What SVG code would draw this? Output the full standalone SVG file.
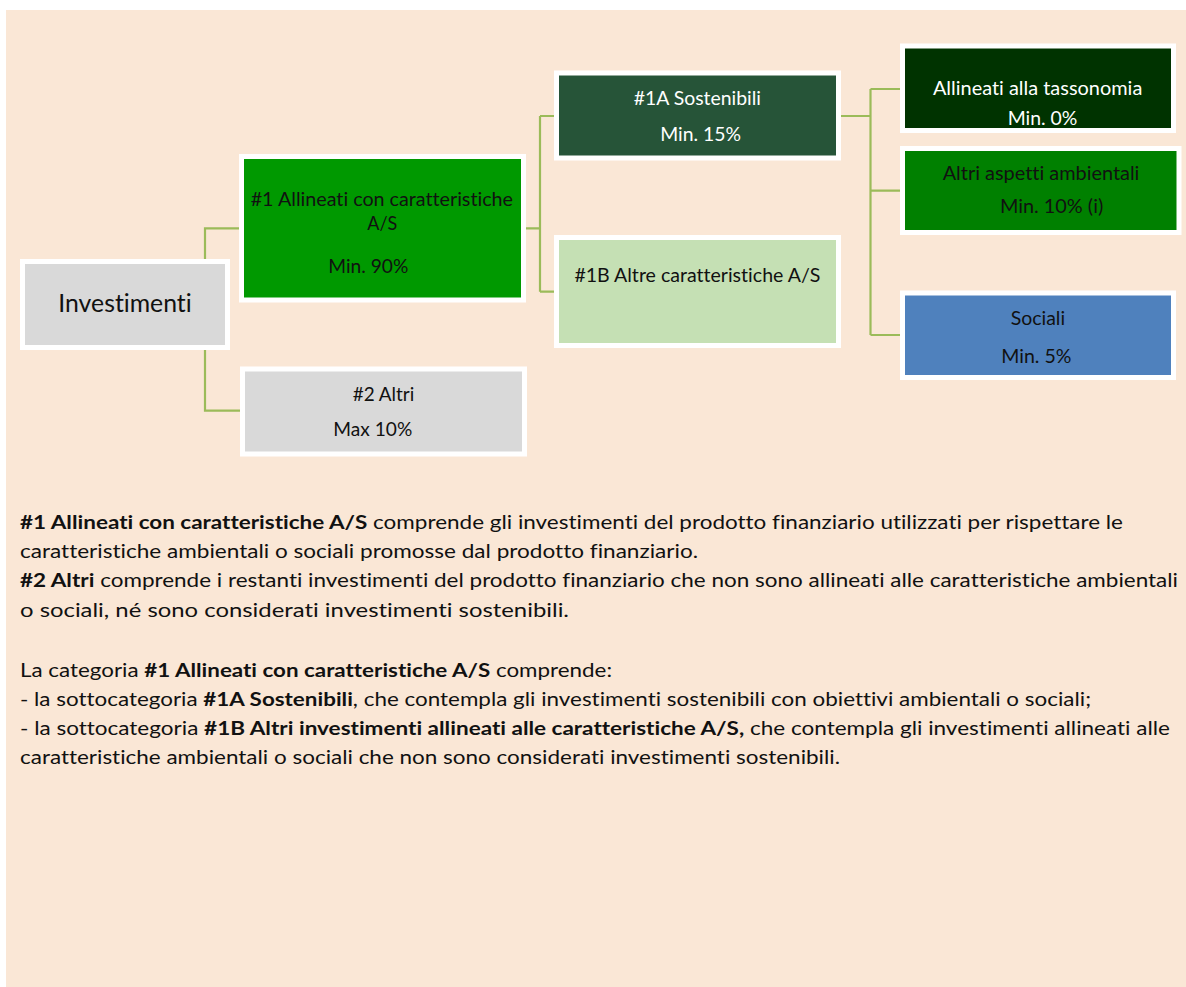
<svg xmlns="http://www.w3.org/2000/svg" width="1186" height="987" viewBox="0 0 1186 987">
<style>
text{font-variant-ligatures:none;font-feature-settings:"liga" 0,"clig" 0}
.node{stroke:#ffffff;stroke-width:5}
.t{font-family:Lato,"Liberation Sans",sans-serif;font-size:19.5px;fill:#111}
.w{fill:#ffffff}
.big{font-size:25px}
.p{font-family:Lato,"Liberation Sans",sans-serif;font-size:19.5px;fill:#111}
.b{font-weight:bold}
.conn{fill:none;stroke:#9bbb59;stroke-width:2.2}
</style>
<rect x="0" y="0" width="1186" height="987" fill="#ffffff"/>
<rect x="6" y="10" width="1180" height="977" fill="#fae7d6"/>

<g id="connectors">
<path class="conn" d="M205,259.3 V228.3 H240"/>
<path class="conn" d="M205,350 V410.7 H241"/>
<path class="conn" d="M525.7,228.3 H540 M540,116 V291.7 M540,116 H555 M540,291.7 H555"/>
<path class="conn" d="M840.7,116 H870.5 M870.5,89 V335 M870.5,89 H901 M870.5,190.7 H901 M870.5,335 H901"/>
</g>

<g id="node-investimenti">
<rect class="node" x="22.5" y="261.5" width="205" height="86" fill="#d9d9d9"/>
<text class="t big" x="58.3" y="311.7" textLength="133.4" lengthAdjust="spacingAndGlyphs">Investimenti</text>
</g>

<g id="node-1">
<rect class="node" x="241.5" y="156.5" width="282" height="143.5" fill="#009900"/>
<text class="t" x="250.7" y="206" textLength="262.3" lengthAdjust="spacingAndGlyphs">#1 Allineati con caratteristiche</text>
<text class="t" x="367.3" y="230" textLength="30" lengthAdjust="spacingAndGlyphs">A/S</text>
<text class="t" x="328.3" y="272.7" textLength="80" lengthAdjust="spacingAndGlyphs">Min. 90%</text>
</g>

<g id="node-2">
<rect class="node" x="242.5" y="369" width="282" height="85" fill="#d9d9d9"/>
<text class="t" x="352.7" y="401" textLength="61.6" lengthAdjust="spacingAndGlyphs">#2 Altri</text>
<text class="t" x="333.3" y="435.7" textLength="79" lengthAdjust="spacingAndGlyphs">Max 10%</text>
</g>

<g id="node-1a">
<rect class="node" x="556.5" y="73" width="282" height="85" fill="#265438"/>
<text class="t w" x="633.8" y="105" textLength="127.2" lengthAdjust="spacingAndGlyphs">#1A Sostenibili</text>
<text class="t w" x="660.2" y="140.7" textLength="80.7" lengthAdjust="spacingAndGlyphs">Min. 15%</text>
</g>

<g id="node-1b">
<rect class="node" x="556.5" y="237.5" width="282" height="108" fill="#c5e0b4"/>
<text class="t" x="574.4" y="282.3" textLength="246" lengthAdjust="spacingAndGlyphs">#1B Altre caratteristiche A/S</text>
</g>

<g id="node-tassonomia">
<rect class="node" x="902.5" y="46" width="271" height="84.5" fill="#003300"/>
<text class="t w" x="932.9" y="95" textLength="209.4" lengthAdjust="spacingAndGlyphs">Allineati alla tassonomia</text>
<text class="t w" x="1007.7" y="125" textLength="69.7" lengthAdjust="spacingAndGlyphs">Min. 0%</text>
</g>

<g id="node-altri-aspetti">
<rect class="node" x="902.5" y="148.5" width="276.5" height="84" fill="#008000"/>
<text class="t" x="942.7" y="179.5" textLength="196.7" lengthAdjust="spacingAndGlyphs">Altri aspetti ambientali</text>
<text class="t" x="1000" y="213.3" textLength="103.2" lengthAdjust="spacingAndGlyphs">Min. 10% (i)</text>
</g>

<g id="node-sociali">
<rect class="node" x="902.5" y="293" width="271" height="84.5" fill="#4f81bd"/>
<text class="t" x="1010.7" y="325" textLength="54.4" lengthAdjust="spacingAndGlyphs">Sociali</text>
<text class="t" x="1001.3" y="362.7" textLength="70.1" lengthAdjust="spacingAndGlyphs">Min. 5%</text>
</g>

<g id="legend">
<text class="p" x="20" y="529.3" textLength="1103" lengthAdjust="spacingAndGlyphs"><tspan class="b">#1 Allineati con caratteristiche A/S</tspan> comprende gli investimenti del prodotto finanziario utilizzati per rispettare le</text>
<text class="p" x="20" y="558.3" textLength="678" lengthAdjust="spacingAndGlyphs">caratteristiche ambientali o sociali promosse dal prodotto finanziario.</text>
<text class="p" x="20" y="587.3" textLength="1158" lengthAdjust="spacingAndGlyphs"><tspan class="b">#2 Altri</tspan> comprende i restanti investimenti del prodotto finanziario che non sono allineati alle caratteristiche ambientali</text>
<text class="p" x="20" y="616.8" textLength="549" lengthAdjust="spacingAndGlyphs">o sociali, né sono considerati investimenti sostenibili.</text>
<text class="p" x="20" y="677.3" textLength="592" lengthAdjust="spacingAndGlyphs">La categoria <tspan class="b">#1 Allineati con caratteristiche A/S</tspan> comprende:</text>
<text class="p" x="20" y="706" textLength="1071" lengthAdjust="spacingAndGlyphs">- la sottocategoria <tspan class="b">#1A Sostenibili</tspan>, che contempla gli investimenti sostenibili con obiettivi ambientali o sociali;</text>
<text class="p" x="20" y="735" textLength="1150" lengthAdjust="spacingAndGlyphs">- la sottocategoria <tspan class="b">#1B Altri investimenti allineati alle caratteristiche A/S,</tspan> che contempla gli investimenti allineati alle</text>
<text class="p" x="20" y="763.5" textLength="820" lengthAdjust="spacingAndGlyphs">caratteristiche ambientali o sociali che non sono considerati investimenti sostenibili.</text>
</g>
</svg>
